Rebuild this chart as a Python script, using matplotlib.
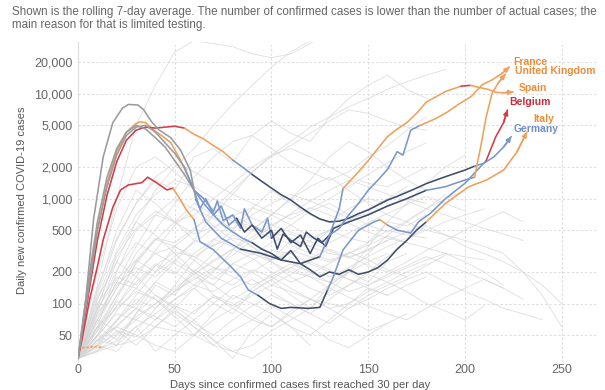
import matplotlib.pyplot as plt

plt.rcParams['font.family'] = ['Liberation Sans', 'DejaVu Sans']

# highlighted countries: days since 30 daily cases, rolling 7-day average
spain_days = [0, 4, 8, 13, 18, 23, 26, 31, 34, 38, 42, 48, 53, 58, 61, 66, 74, 84, 95, 105, 115, 125, 130, 135, 137,
              145, 150, 155, 160, 165, 170, 175, 180, 190, 198, 203, 207, 212, 216, 220, 225]
spain_cases = [30, 110, 630, 2500, 5300, 7300, 7900, 7800, 7000, 5400, 4500, 3800, 2900, 1870, 970, 600, 420, 330, 300,
               260, 240, 280, 450, 800, 1250, 1800, 2300, 3000, 3900, 4600, 5300, 6500, 8300, 10500, 11800, 12000,
               11500, 11000, 10300, 10200, 10400]

germany_days = [0, 5, 10, 15, 20, 25, 30, 35, 40, 45, 50, 55, 60, 65, 70, 75, 80, 85, 90, 95, 100, 105, 110, 115, 120,
                125, 130, 135, 140, 145, 150, 155, 160, 165, 170, 175, 180, 190, 200, 205, 210, 215, 220, 224]
germany_cases = [30, 110, 400, 1080, 2250, 3600, 4500, 4800, 4700, 4800, 4900, 4700, 4100, 3700, 3200, 2800, 2330,
                 2000, 1700, 1460, 1260, 1090, 970, 830, 720, 640, 600, 610, 650, 720, 780, 870, 970, 1050, 1150, 1260,
                 1390, 1620, 1870, 2040, 2180, 2500, 3100, 3900]

belgium_days = [0, 3, 6, 10, 13, 18, 22, 26, 33, 36, 41, 46, 49, 53, 56, 60, 63, 70, 79, 84, 88, 93, 99, 105, 110, 119,
                125, 129, 132, 137, 145, 153, 156, 160, 165, 172, 176, 182, 190, 200, 211, 216, 220, 222]
belgium_cases = [30, 56, 110, 225, 405, 830, 1210, 1350, 1420, 1600, 1400, 1210, 1260, 970, 780, 630, 390, 325, 225,
                 180, 135, 120, 100, 90, 92, 90, 92, 135, 180, 325, 500, 600, 630, 560, 500, 470, 600, 720, 1000, 1400,
                 2300, 3900, 5300, 7000]

italy_days = [0, 5, 10, 15, 20, 25, 30, 32, 35, 39, 44, 48, 53, 56, 60, 65, 70, 75, 80, 85, 90, 95, 100, 105, 110, 115,
              120, 125, 130, 135, 140, 145, 150, 155, 160, 165, 170, 175, 180, 190, 202, 211, 220, 227, 232]
italy_cases = [30, 130, 500, 1400, 2800, 4300, 5200, 5400, 5300, 4500, 3900, 3400, 2330, 1760, 1210, 900, 700, 560, 480,
               420, 380, 330, 300, 260, 320, 240, 210, 180, 200, 190, 210, 190, 200, 220, 260, 330, 400, 500, 600, 900,
               1300, 1500, 1870, 2800, 4300]

france_days = [0, 5, 10, 15, 20, 25, 30, 35, 40, 45, 50, 55, 60, 63, 66, 70, 74, 78, 82, 86, 90, 95, 100, 103, 106, 110,
               115, 118, 122, 126, 130, 135, 140, 145, 150, 155, 160, 165, 168, 172, 177, 185, 191, 197, 203, 209, 214,
               219, 223]
france_cases = [30, 120, 500, 1300, 2600, 4000, 4800, 5000, 4300, 3400, 2700, 2000, 1200, 800, 1000, 700, 850, 560, 650,
                480, 560, 420, 500, 330, 460, 400, 350, 480, 420, 380, 450, 520, 700, 900, 1200, 1500, 1900, 2800, 2600,
                4500, 5000, 5800, 6700, 8000, 9300, 12200, 13500, 15500, 18000]

uk_days = [0, 5, 10, 15, 20, 25, 30, 35, 40, 45, 50, 55, 60, 65, 70, 72, 75, 80, 84, 86, 90, 95, 98, 100, 105, 110, 115,
           120, 124, 128, 132, 140, 150, 160, 170, 180, 190, 195, 200, 205, 208, 211, 214, 217, 221]
uk_cases = [30, 150, 600, 1600, 3000, 4300, 5000, 4600, 3800, 3100, 2300, 1700, 1200, 1000, 750, 950, 620, 700, 520, 800,
            560, 480, 650, 420, 520, 380, 450, 300, 420, 350, 520, 600, 700, 850, 1000, 1200, 1300, 1400, 1500, 1600,
            3000, 6000, 10000, 12500, 15400]

# short series that only has a few days of data
short_days = [0, 4, 8, 13]
short_cases = [38, 38, 39, 38]

# all other countries, one value every 10 days
grey_days = list(range(0, 260, 10))
grey_cases = [
    [30, 80, 150, 220, 180, 260, 200, 150, 240, 300, 260, 400, 350, 500, 420, 380, 600, 550, 700],
    [30, 45, 60, 90, 70, 110, 140, 100, 80, 130, 170, 120, 90, 150, 200, 160, 250, 300],
    [30, 120, 400, 900, 1500, 1200, 2500, 3000, 2200, 4000, 5500, 4200, 3500, 6000, 9000, 12000, 15000, 11000, 9000],
    [30, 60, 200, 500, 700, 600, 400, 350, 500, 800, 1200, 900, 700, 600, 800, 1000, 900],
    [30, 50, 40, 60, 35, 50, 70, 45, 30, 55, 80, 60, 40],
    [30, 90, 300, 600, 450, 300, 200, 120, 90, 70, 60, 80, 110, 150, 200, 300, 450, 600, 800, 1100],
    [30, 70, 140, 300, 500, 900, 1600, 2500, 3500, 4000, 3000, 2200, 1800, 1500, 1800, 2500, 3200, 4500, 6000],
    [30, 40, 35, 55, 90, 150, 260, 400, 600, 550, 480, 420, 350, 300, 280, 320, 400],
    [30, 110, 250, 180, 120, 90, 60, 45, 35, 40, 55, 70, 90, 130, 200, 350, 600, 900, 1400, 2000, 2600],
    [30, 60, 120, 200, 300, 350, 260, 180, 150, 200, 260, 320, 280, 250, 300, 380, 500, 450, 420],
    [30, 35, 50, 70, 100, 130, 170, 220, 200, 260, 320, 300, 240, 200, 170, 150, 180, 220, 260, 300, 250, 200, 150],
    [30, 200, 800, 2000, 2500, 1800, 1200, 800, 600, 500, 700, 1000, 1500, 2500, 3500, 2800, 2000, 1500, 1200],
    [30, 50, 80, 70, 60, 90, 140, 200, 320, 500, 700, 1000, 1300, 1600, 1200, 900, 700, 600, 500, 450, 400, 350, 300,
     200, 120, 60],
    [30, 45, 70, 100, 160, 250, 400, 700, 1100, 1800, 2600, 3500, 4800, 6000, 7500, 9000, 11000, 13000, 15000, 17000],
    [30, 150, 1000, 5000, 12000, 25000, 32000, 30000, 28000, 24000, 22000, 24000, 30000, 40000],
    [30, 80, 250, 600, 1200, 2000, 3000, 5000, 8000, 12000, 18000, 25000, 32000, 40000],
    [30, 40, 60, 50, 40, 35, 50, 80, 120, 100, 80, 60, 50, 70, 100, 140, 120],
    [30, 100, 180, 150, 230, 310, 280, 360, 420, 380, 300, 250, 200, 180, 220, 280, 350, 420, 500, 600, 700, 800],
    [30, 55, 95, 160, 240, 200, 150, 130, 170, 210, 180, 140, 110, 90, 100, 130, 160, 200, 240],
    [30, 70, 160, 350, 700, 1000, 800, 550, 400, 300, 250, 200, 180, 160, 200, 250, 300],
    [30, 40, 70, 120, 200, 350, 500, 800, 1200, 1800, 2500, 3200, 4200, 5500, 7000, 6500, 5500, 4800, 4500],
    [30, 35, 40, 45, 60, 55, 50, 70, 90, 120, 150, 130, 110, 100, 90, 110, 140, 170, 200, 160, 130, 110, 90, 80, 70],
    [30, 130, 500, 1200, 900, 600, 700, 1000, 1400, 2000, 2600, 3000, 2500, 2000, 1600, 1400, 1300, 1600, 2000],
    [30, 60, 90, 130, 110, 80, 60, 40, 35, 30, 40],
    [30, 50, 110, 250, 400, 600, 900, 700, 500, 350, 260, 300, 400, 500, 650, 800, 1000, 1300],
    [30, 45, 40, 80, 150, 120, 200, 300, 450, 350, 250, 180, 140, 120, 150, 200, 280, 400, 550, 450, 350, 300, 250, 200,
     150, 100],
    [30, 65, 140, 260, 420, 380, 520, 700, 640, 500, 420, 560, 760, 900, 700, 560, 480, 620, 800, 1000, 1200],
    [30, 38, 55, 48, 70, 95, 80, 120, 100, 75, 60, 85, 110, 90, 70, 55, 65, 80],
    [30, 85, 210, 380, 300, 240, 190, 260, 330, 270, 200, 160, 190, 240, 310, 260, 210, 180, 230, 290],
    [30, 50, 95, 180, 320, 560, 800, 650, 520, 700, 900, 1100, 950, 800, 650, 720, 850, 1000, 900],
    [30, 42, 68, 110, 90, 130, 180, 150, 110, 140, 190, 240, 200, 160, 130, 150, 190, 230, 280, 240, 200, 170, 140],
    [30, 75, 160, 140, 110, 75, 50, 40, 55, 70, 95, 75, 60, 45, 38, 50, 65],
    [30, 95, 280, 520, 760, 600, 460, 540, 680, 820, 700, 560, 430, 380, 470, 590, 720, 880, 1050, 900, 760],
    [30, 48, 85, 140, 230, 190, 300, 410, 350, 290, 380, 460, 390, 320, 270, 330, 400, 480, 560],
    [30, 60, 45, 80, 120, 95, 70, 100, 140, 170, 130, 100, 80, 110, 150, 190, 160, 130, 100, 85, 70, 95],
    [30, 110, 320, 700, 1100, 1500, 1300, 1000, 800, 650, 560, 480, 420, 500, 620, 780, 950, 1200],
    [30, 40, 52, 75, 100, 140, 190, 250, 330, 430, 560, 700, 820, 700, 580, 480, 420, 380, 340, 300, 280, 260],
    [30, 70, 55, 40, 60, 85, 65, 50, 70, 95, 120, 100, 80, 65, 90, 120, 150, 180],
    [30, 55, 120, 240, 410, 350, 280, 220, 180, 150, 180, 220, 270, 330, 280, 230, 200, 250, 320, 400, 500, 620, 750,
     600],
    [30, 90, 170, 260, 200, 280, 380, 520, 680, 560, 450, 360, 300, 260, 300, 360, 440, 380],
    [30, 36, 44, 60, 80, 110, 150, 210, 290, 400, 540, 720, 950, 1200, 1500, 1300, 1100, 950, 800, 700, 600, 520, 460,
     400],
    [30, 140, 420, 900, 1600, 2200, 1800, 1400, 1100, 900, 750, 640, 800, 1000, 1300, 1700, 2200, 2800, 3400],
    [30, 58, 105, 90, 160, 130, 210, 170, 240, 200, 150, 190, 250, 210, 170, 140, 120, 150, 180],
    [30, 44, 62, 90, 75, 60, 85, 115, 95, 130, 170, 220, 180, 140, 115, 95, 80, 70, 90, 115, 140, 170, 140, 110],
]

# line colour changes along each highlighted series: (from day, colour key)
palette = {'grey': '#9b9b9b', 'orange': '#f0a05a', 'red': '#d43a48', 'blue': '#7897cc', 'navy': '#3e4d6b'}
label_colours = {'France': '#ee8c3a', 'United Kingdom': '#ee8c3a', 'Spain': '#ee8c3a',
                 'Belgium': '#d2293b', 'Italy': '#ee8c3a', 'Germany': '#6f8fc8'}

series = [
    ('Italy', italy_days, italy_cases,
     [(0, 'orange'), (60, 'blue'), (90, 'navy'), (180, 'orange')], (6, 13)),
    ('Belgium', belgium_days, belgium_cases,
     [(0, 'red'), (49, 'orange'), (60, 'blue'), (93, 'navy'), (129, 'blue'), (156, 'orange'), (160, 'blue'),
      (211, 'red')], (2, 8)),
    ('Germany', germany_days, germany_cases,
     [(0, 'red'), (55, 'orange'), (80, 'blue'), (88, 'navy'), (205, 'blue')], (2, 8)),
    ('United Kingdom', uk_days, uk_cases,
     [(0, 'grey'), (60, 'blue'), (100, 'navy'), (180, 'blue'), (205, 'orange')], (9, 3)),
    ('France', france_days, france_cases,
     [(0, 'grey'), (55, 'blue'), (80, 'navy'), (130, 'blue'), (177, 'orange')], (4, 5)),
    ('Spain', spain_days, spain_cases,
     [(0, 'grey'), (61, 'blue'), (84, 'navy'), (125, 'blue'), (137, 'orange'), (198, 'red'), (203, 'orange')], (5, 4)),
]

fig = plt.figure(figsize=(6.05, 3.9), dpi=100)
ax = fig.add_axes([0.129, 0.072, 0.86, 0.82])

for vals in grey_cases:
    ax.plot(grey_days[:len(vals)], vals, color='#d4d4d4', lw=0.6, alpha=0.75, zorder=1)

ax.plot(short_days, short_cases, color='#f0a05a', lw=1.2, ls=(0, (1.5, 1)), zorder=2)


def colour_at(runs, day):
    key = runs[0][1]
    for start, k in runs:
        if day >= start:
            key = k
    return key


for name, days, cases, runs, offset in series:
    # split into pieces of one colour, sharing the joining point
    piece_x, piece_y = [days[0]], [cases[0]]
    key = colour_at(runs, days[0])
    for i in range(1, len(days)):
        k = colour_at(runs, days[i - 1])
        if k != key:
            ax.plot(piece_x, piece_y, color=palette[key], lw=1.15, solid_capstyle='round', zorder=3)
            piece_x, piece_y = [days[i - 1]], [cases[i - 1]]
            key = k
        piece_x.append(days[i])
        piece_y.append(cases[i])
    ax.plot(piece_x, piece_y, color=palette[key], lw=1.15, solid_capstyle='round', zorder=3)

    end_colour = palette[colour_at(runs, days[-2])]
    ax.annotate('', xy=(days[-1], cases[-1]), xytext=(days[-2], cases[-2]),
                arrowprops=dict(arrowstyle='-|>', color=end_colour, lw=1.15, mutation_scale=7,
                                shrinkA=0, shrinkB=0), zorder=4)
    ax.annotate(name, xy=(days[-1], cases[-1]), xytext=offset, textcoords='offset pixels',
                ha='left', va='center', fontsize=7.5, fontweight='bold', color=label_colours[name])

ax.set_yscale('log')
ax.set_xlim(0, 269)
ax.set_ylim(27.8, 31000)

yticks = [50, 100, 200, 500, 1000, 2000, 5000, 10000, 20000]
ax.set_yticks(yticks)
ax.set_yticklabels([f'{t:,}' for t in yticks])
ax.minorticks_off()
ax.set_xticks([0, 50, 100, 150, 200, 250])
ax.tick_params(length=0, labelsize=9, colors='#666666')
ax.tick_params(axis='x', pad=1.5)
ax.tick_params(axis='y', pad=4)
ax.grid(True, color='#dddddd', lw=0.8, ls=(0, (2, 2)))
ax.set_axisbelow(True)
for side in ['top', 'right', 'bottom']:
    ax.spines[side].set_visible(False)
ax.spines['left'].set_color('#dddddd')

fig.text(0.02, 0.985, 'Shown is the rolling 7-day average. The number of confirmed cases is lower than the number '
         'of actual cases; the\nmain reason for that is limited testing.', ha='left', va='top', fontsize=8.4,
         color='#666666', linespacing=1.15)
fig.text(0.036, 0.487, 'Daily new confirmed COVID-19 cases', rotation=90, ha='center', va='center',
         fontsize=8, color='#555555')
fig.text(0.496, 0.013, 'Days since confirmed cases first reached 30 per day', ha='center', va='center',
         fontsize=8, color='#555555')

fig.savefig('out.png', dpi=100)
